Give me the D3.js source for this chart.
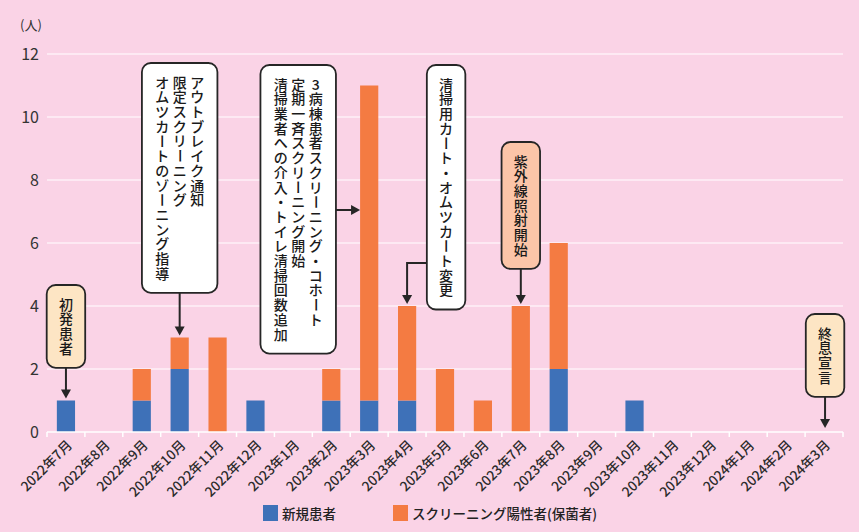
<!DOCTYPE html>
<html>
<head>
<meta charset="utf-8">
<script src="https://cdn.jsdelivr.net/npm/d3@7"></script>
<style>
  html, body { margin: 0; padding: 0; background: #fad3e6; }
  svg { display: block; font-family: "Noto Sans CJK JP", "Noto Sans", sans-serif; }
</style>
</head>
<body>
<div id="chart"></div>
<script>
const months = [
  "2022年7月", "2022年8月", "2022年9月", "2022年10月", "2022年11月", "2022年12月",
  "2023年1月", "2023年2月", "2023年3月", "2023年4月", "2023年5月", "2023年6月",
  "2023年7月", "2023年8月", "2023年9月", "2023年10月", "2023年11月", "2023年12月",
  "2024年1月", "2024年2月", "2024年3月"
];
const newPatients =       [1, 0, 1, 2, 0, 1, 0, 1, 1, 1, 0, 0, 0, 2, 0, 1, 0, 0, 0, 0, 0];
const screeningPositive = [0, 0, 1, 1, 3, 0, 0, 1, 10, 3, 2, 1, 4, 4, 0, 0, 0, 0, 0, 0, 0];
const yTicks = [0, 2, 4, 6, 8, 10, 12];
const seriesNames = ["新規患者", "スクリーニング陽性者(保菌者)"];
const unitLabel = "(人)";

// annotation texts (columns read right to left) and the month each one points at
const noteTexts = [
  ["初発患者"],
  ["アウトブレイク通知", "限定スクリーニング", "オムツカートのゾーニング指導"],
  ["3病棟患者スクリーニング・コホート", "定期一斉スクリーニング開始", "清掃業者への介入・トイレ清掃回数追加"],
  ["清掃用カート・オムツカート変更"],
  ["紫外線照射開始"],
  ["終息宣言"]
];
const noteTargets = ["2022年7月", "2022年10月", "2023年3月", "2023年4月", "2023年7月", "2024年3月"];

const W = 859, H = 532;
const margin = { top: 54, right: 16, bottom: 100, left: 47 };
const colors = { blue: "#3e71b8", orange: "#f47b42", grid: "#ffffff", text: "#333333" };

const rows = months.map((m, i) => ({ month: m, a: newPatients[i], b: screeningPositive[i] }));
const stack = d3.stack().keys(["a", "b"])(rows);

const x = d3.scaleBand().domain(months).range([margin.left, W - margin.right]).paddingInner(0.52).paddingOuter(0.26);
const step = x.step();
const y = d3.scaleLinear().domain([0, 12]).range([H - margin.bottom, margin.top]);

const svg = d3.select("#chart").append("svg").attr("width", W).attr("height", H);

// grid
svg.append("g").selectAll("line").data(yTicks.filter(d => d > 0)).join("line")
  .attr("x1", margin.left).attr("x2", W - margin.right)
  .attr("y1", d => y(d)).attr("y2", d => y(d))
  .attr("stroke", colors.grid).attr("stroke-width", 1.2);

// y labels
svg.append("g").selectAll("text").data(yTicks).join("text")
  .attr("x", 39).attr("y", d => y(d)).attr("dy", "0.36em")
  .attr("text-anchor", "end").attr("font-size", 16).attr("fill", colors.text)
  .text(d => d);
svg.append("text").attr("x", 20).attr("y", 30).attr("font-size", 13).attr("fill", colors.text).text(unitLabel);

// bars
svg.append("g").selectAll("g").data(stack).join("g")
  .attr("fill", (d, i) => i === 0 ? colors.blue : colors.orange)
  .selectAll("rect").data(d => d).join("rect")
  .attr("x", d => x(d.data.month))
  .attr("width", x.bandwidth())
  .attr("y", d => y(d[1]))
  .attr("height", d => y(d[0]) - y(d[1]));

// x axis line and ticks at band edges
const x0 = margin.left, x1 = W - margin.right, yb = y(0);
svg.append("line").attr("x1", x0).attr("x2", x1).attr("y1", yb).attr("y2", yb)
  .attr("stroke", colors.grid).attr("stroke-width", 1.5);
svg.append("g").selectAll("line").data(d3.range(months.length + 1)).join("line")
  .attr("x1", i => x0 + i * step).attr("x2", i => x0 + i * step)
  .attr("y1", yb).attr("y2", yb + 5)
  .attr("stroke", colors.grid).attr("stroke-width", 1.5);

const center = m => x(m) + x.bandwidth() / 2;
svg.append("g").selectAll("text").data(months).join("text")
  .attr("transform", m => `translate(${center(m) + 7},${yb + 14}) rotate(-45)`)
  .attr("text-anchor", "end").attr("font-size", 13.5).attr("font-weight", 500).attr("fill", "#2b2b2b")
  .text(m => m);

// legend
const legend = svg.append("g");
[[263, 282], [393, 412]].forEach(([sx, tx], i) => {
  legend.append("rect").attr("x", sx).attr("y", 505).attr("width", 15).attr("height", 16)
    .attr("fill", i === 0 ? colors.blue : colors.orange);
  legend.append("text").attr("x", tx).attr("y", 518.5).attr("font-size", 13.5)
    .attr("font-weight", 500).attr("fill", "#222").text(seriesNames[i]);
});

// annotations
const total = m => { const i = months.indexOf(m); return newPatients[i] + screeningPositive[i]; };
const fs = 14, charStep = 14.7, colStep = 17.5;
const noteLayout = [
  { top: 285, dx: 0, fill: "#fde5c4", arrow: "down" },
  { top: 63, dx: 0, fill: "#ffffff", arrow: "down" },
  { top: 65, dx: -71, fill: "#ffffff", arrow: "right", ay: 210 },
  { top: 65, dx: 39, fill: "#ffffff", arrow: "leftdown", ay: 263 },
  { top: 142, dx: 0, fill: "#fcc5a8", arrow: "down" },
  { top: 314, dx: 1, fill: "#fde5c4", arrow: "down" }
];
const ink = "#262626";
const notes = svg.append("g");
const smallKana = "ッィャュョァゥェォ";

function arrowHead(g, tx, ty, dir) {
  const s = 5, l = 9;
  const pts = dir === "down"
    ? [[tx - s, ty - l], [tx + s, ty - l], [tx, ty]]
    : [[tx - l, ty - s], [tx - l, ty + s], [tx, ty]];
  g.append("path").attr("d", "M" + pts.join("L") + "Z").attr("fill", ink);
}

// vertical text: one glyph per cell, long vowel mark turned upright
function verticalColumn(g, s, cx, top) {
  Array.from(s).forEach((ch, i) => {
    const cy = top + i * charStep + charStep / 2;
    const t = g.append("text")
      .attr("text-anchor", "middle")
      .attr("font-size", fs).attr("font-weight", 500).attr("fill", "#1a1a1a")
      .text(ch);
    if (ch === "ー") {
      t.attr("transform", `translate(${cx},${cy}) rotate(90)`).attr("dy", "0.36em");
    } else if (smallKana.includes(ch)) {
      t.attr("x", cx + fs * 0.12).attr("y", cy - fs * 0.14).attr("dy", "0.36em");
    } else {
      t.attr("x", cx).attr("y", cy).attr("dy", "0.38em");
    }
  });
}

noteTexts.forEach((lines, k) => {
  const L = noteLayout[k];
  const target = noteTargets[k];
  const cx = center(target) + L.dx;
  const longest = d3.max(lines, s => s.length);
  const bw = 20 + lines.length * 18.5;
  const bh = longest * charStep + 24;
  const g = notes.append("g");
  const tipGap = 2;

  if (L.arrow === "down") {
    const tipY = (total(target) > 0 ? y(total(target)) : yb) - (total(target) > 0 ? tipGap : 4);
    g.append("line").attr("x1", cx).attr("x2", cx).attr("y1", L.top + bh).attr("y2", tipY - 8)
      .attr("stroke", ink).attr("stroke-width", 2);
    arrowHead(g, cx, tipY, "down");
  } else if (L.arrow === "right") {
    const tipX = x(target);
    g.append("line").attr("x1", cx + bw / 2).attr("x2", tipX - 8).attr("y1", L.ay).attr("y2", L.ay)
      .attr("stroke", ink).attr("stroke-width", 2);
    arrowHead(g, tipX, L.ay, "right");
  } else {
    const tx = center(target);
    const tipY = y(total(target)) - tipGap;
    g.append("path")
      .attr("d", `M${cx - bw / 2},${L.ay}H${tx}V${tipY - 8}`)
      .attr("fill", "none").attr("stroke", ink).attr("stroke-width", 2);
    arrowHead(g, tx, tipY, "down");
  }

  g.append("rect").attr("x", cx - bw / 2).attr("y", L.top).attr("width", bw).attr("height", bh)
    .attr("rx", 9).attr("fill", L.fill).attr("stroke", ink).attr("stroke-width", 1.8);

  lines.forEach((s, j) => {
    const colX = cx + ((lines.length - 1) / 2 - j) * colStep;
    verticalColumn(g, s, colX, L.top + 12);
  });
});
</script>
</body>
</html>
